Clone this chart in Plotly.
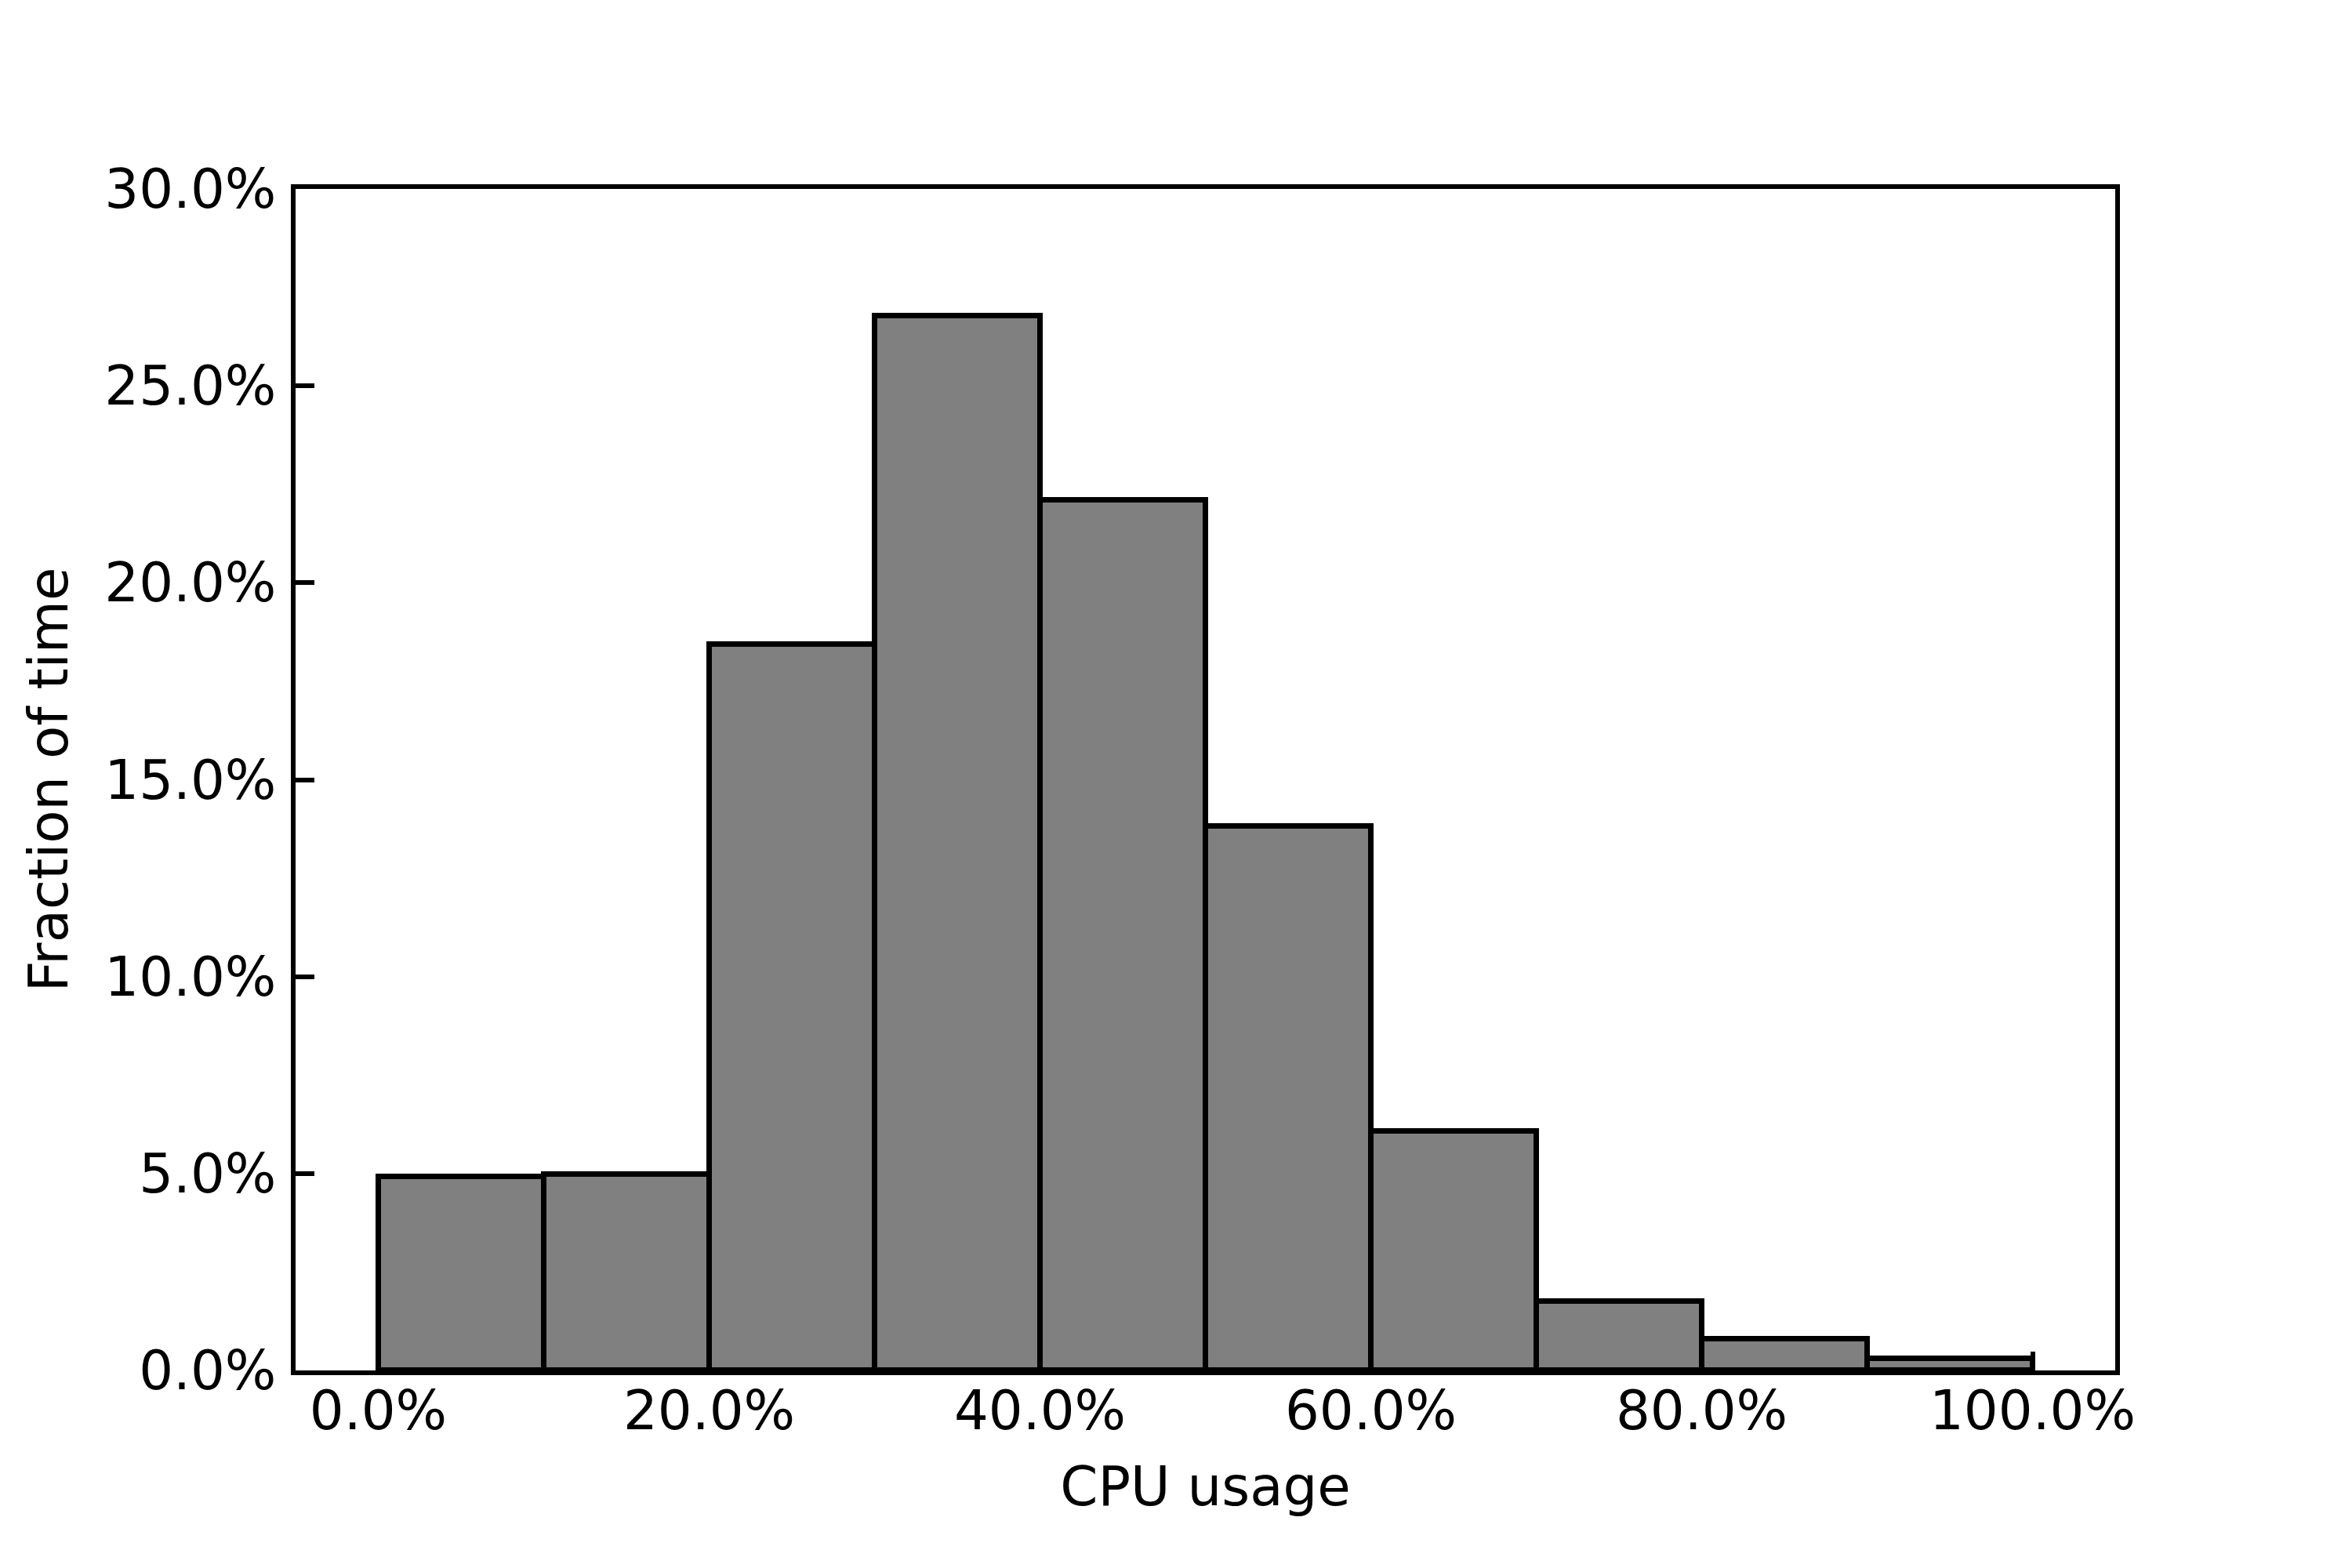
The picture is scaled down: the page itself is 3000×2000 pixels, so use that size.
import plotly.graph_objects as go

# histogram of CPU usage: bin edges (fraction of full CPU) and share of time per bin
bin_edges = [0.0, 0.1, 0.2, 0.3, 0.4, 0.5, 0.6, 0.7, 0.8, 0.9, 1.0]
fractions = [0.0491, 0.0498, 0.1844, 0.2677, 0.2209, 0.1381, 0.0607, 0.0175, 0.0079, 0.0029]

x_ticks = [0.0, 0.2, 0.4, 0.6, 0.8, 1.0]
y_ticks = [0.0, 0.05, 0.10, 0.15, 0.20, 0.25, 0.30]

centers = [(a + b) / 2 for a, b in zip(bin_edges[:-1], bin_edges[1:])]
widths = [b - a for a, b in zip(bin_edges[:-1], bin_edges[1:])]

FONT = dict(family="DejaVu Sans", size=69, color="black")

fig = go.Figure()
fig.add_trace(
    go.Bar(
        x=centers, y=fractions, width=widths,
        marker=dict(color="#808080", line=dict(color="black", width=7)),
        showlegend=False,
    )
)

axis_common = dict(
    showline=True, linecolor="black", linewidth=5.5, mirror=True,
    showgrid=False, zeroline=False,
    ticks="inside", ticklen=24, tickwidth=5.5, tickcolor="black",
    tickformat=".1%", tickfont=FONT,
)

fig.update_xaxes(
    range=[-0.05, 1.05], tickvals=x_ticks, ticklabelstandoff=-14,
    title=dict(text="CPU usage", font=FONT, standoff=36),
    **axis_common,
)
fig.update_yaxes(
    range=[0, 0.30], tickvals=y_ticks, ticklabelstandoff=5,
    title=dict(text="Fraction of time", font=FONT, standoff=26),
    **axis_common,
)

# the page body has an 8px margin, so the figure is a bit smaller than the window;
# plotly draws the frame just outside the plot area, hence the 2px inset
fig.update_layout(
    width=2984, height=1984, autosize=False,
    margin=dict(l=369, r=294, t=233, b=244),
    plot_bgcolor="white", paper_bgcolor="white",
    font=FONT, bargap=0,
)

fig.write_html("out.html")
